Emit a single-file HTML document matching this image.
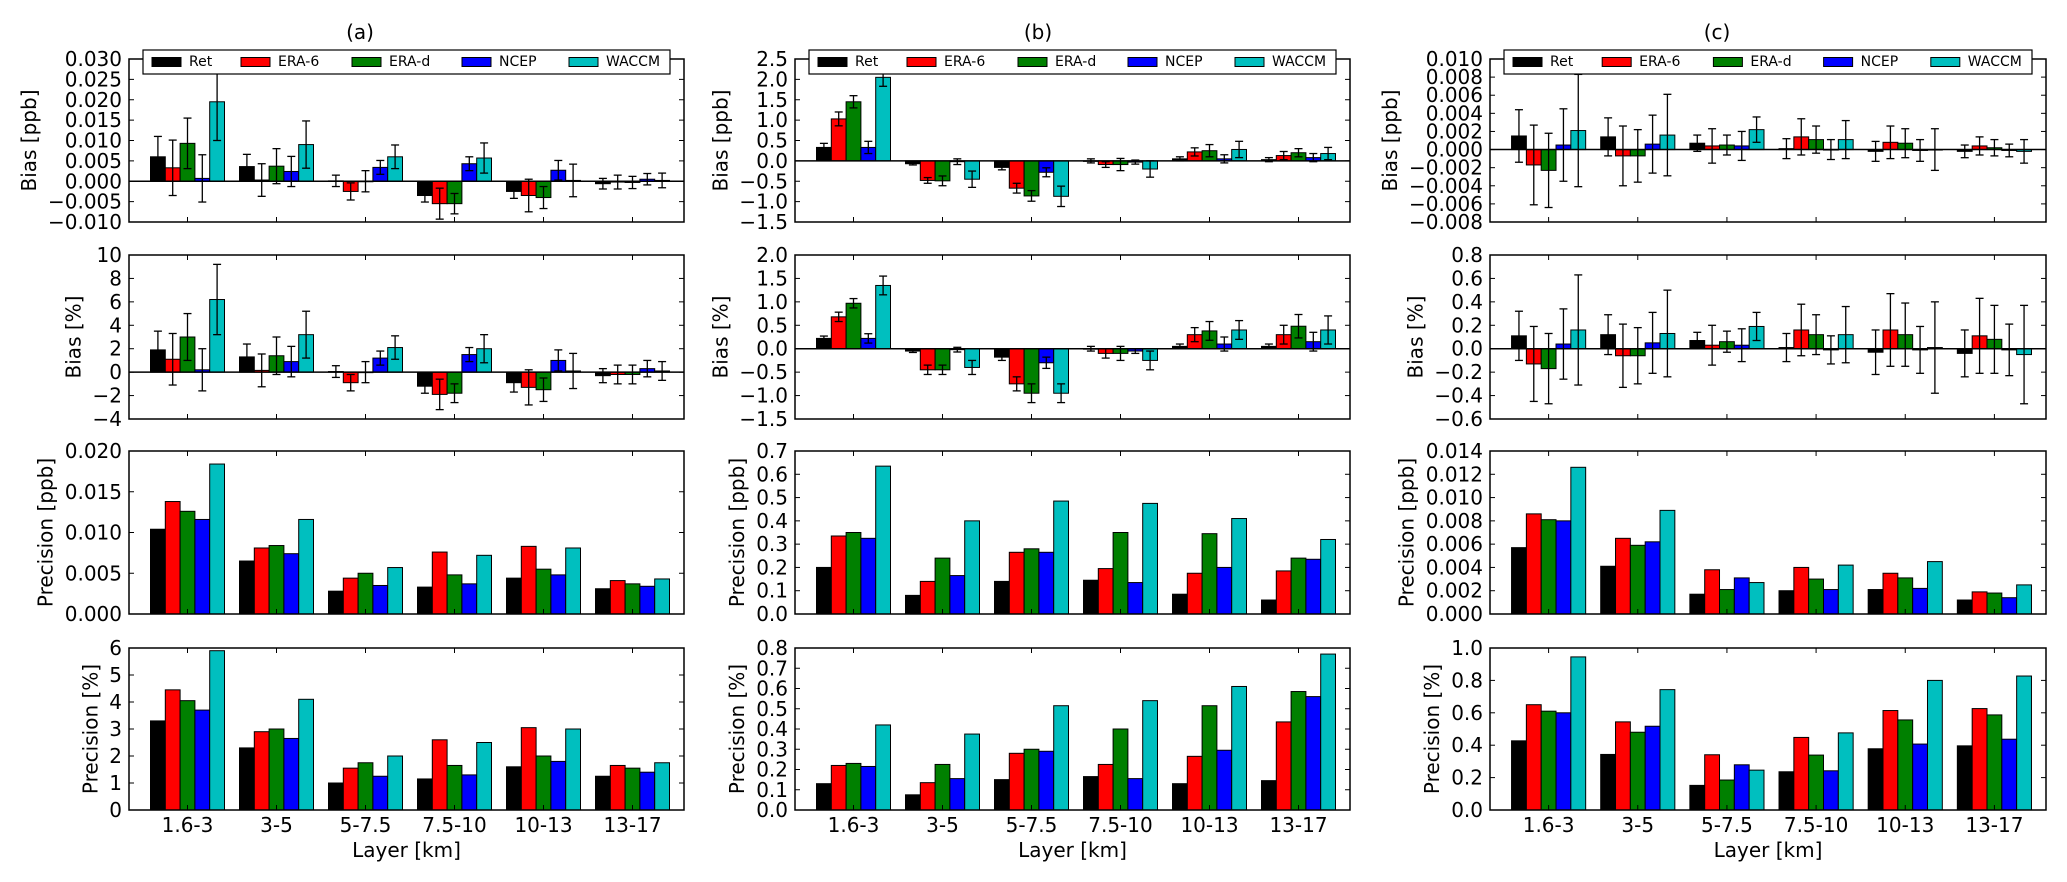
<!DOCTYPE html>
<html><head><meta charset="utf-8"><style>
html,body{margin:0;padding:0;background:#fff;}
svg{display:block;font-family:"DejaVu Sans","Liberation Sans",sans-serif;}
</style></head><body>
<svg id="fig" width="2067" height="882" viewBox="0 0 2067 882" xmlns="http://www.w3.org/2000/svg"></svg>
<script>
const categories = ["1.6-3","3-5","5-7.5","7.5-10","10-13","13-17"];
const seriesNames = ["Ret","ERA-6","ERA-d","NCEP","WACCM"];
const seriesColors = ["#000000","#ff0000","#008000","#0000ff","#00bfbf"];
const columnTitles = ["(a)","(b)","(c)"];
const rowLabels = ["Bias [ppb]","Bias [%]","Precision [ppb]","Precision [%]"];

// values: one row per category, five series each
const aBiasPpb = [[0.006,0.0033,0.0093,0.0007,0.0195],[0.0036,0.0003,0.0037,0.0024,0.009],[0.0001,-0.0025,0.0000,0.0034,0.006],[-0.0035,-0.0055,-0.0055,0.0043,0.0057],[-0.0025,-0.0035,-0.004,0.0027,0.0002],[-0.0006,-0.0002,-0.0003,0.0005,0.0002]];
const aBiasPpbErr = [[0.005,0.0068,0.0062,0.0058,0.0095],[0.003,0.004,0.0043,0.0037,0.0058],[0.0014,0.0021,0.0026,0.0017,0.0029],[0.0016,0.0038,0.0025,0.0017,0.0037],[0.0017,0.004,0.0027,0.0024,0.004],[0.0013,0.0017,0.0015,0.0014,0.0018]];
const aBiasPct = [[1.9,1.1,3.0,0.2,6.2],[1.3,0.15,1.4,0.9,3.2],[0.05,-0.9,0.0,1.2,2.1],[-1.2,-1.9,-1.8,1.5,2.0],[-0.9,-1.3,-1.5,1.0,0.1],[-0.3,-0.2,-0.2,0.3,0.1]];
const aBiasPctErr = [[1.6,2.2,2.0,1.8,3.0],[1.1,1.4,1.6,1.3,2.0],[0.5,0.7,0.9,0.6,1.0],[0.6,1.3,0.8,0.6,1.2],[0.8,1.5,1.0,0.9,1.5],[0.6,0.8,0.8,0.7,0.8]];
const aPrecPpb = [[0.0104,0.0138,0.0126,0.0116,0.0184],[0.0065,0.0081,0.0084,0.0074,0.0116],[0.0028,0.0044,0.0050,0.0035,0.0057],[0.0033,0.0076,0.0048,0.0037,0.0072],[0.0044,0.0083,0.0055,0.0048,0.0081],[0.0031,0.0041,0.0037,0.0034,0.0043]];
const aPrecPct = [[3.3,4.45,4.05,3.7,5.9],[2.3,2.9,3.0,2.65,4.1],[1.0,1.55,1.75,1.25,2.0],[1.15,2.6,1.65,1.3,2.5],[1.6,3.05,2.0,1.8,3.0],[1.25,1.65,1.55,1.4,1.75]];

const bBiasPpb = [[0.33,1.03,1.45,0.33,2.05],[-0.07,-0.48,-0.49,-0.02,-0.45],[-0.16,-0.67,-0.86,-0.28,-0.87],[0.0,-0.09,-0.09,-0.03,-0.2],[0.05,0.22,0.25,0.05,0.28],[0.03,0.13,0.2,0.08,0.18]];
const bBiasPpbErr = [[0.1,0.17,0.15,0.15,0.22],[0.03,0.07,0.12,0.07,0.2],[0.06,0.12,0.13,0.11,0.25],[0.05,0.07,0.15,0.05,0.2],[0.05,0.1,0.15,0.1,0.2],[0.05,0.1,0.1,0.1,0.15]];
const bBiasPct = [[0.22,0.68,0.97,0.22,1.35],[-0.05,-0.45,-0.45,-0.02,-0.4],[-0.18,-0.75,-0.95,-0.3,-0.95],[0.0,-0.1,-0.1,-0.05,-0.25],[0.05,0.3,0.38,0.1,0.4],[0.05,0.3,0.48,0.15,0.4]];
const bBiasPctErr = [[0.05,0.1,0.1,0.1,0.2],[0.03,0.1,0.1,0.05,0.15],[0.07,0.15,0.2,0.12,0.2],[0.05,0.1,0.15,0.05,0.2],[0.05,0.15,0.2,0.15,0.2],[0.05,0.2,0.25,0.2,0.3]];
const bPrecPpb = [[0.20,0.335,0.35,0.325,0.635],[0.08,0.14,0.24,0.165,0.40],[0.14,0.265,0.28,0.265,0.485],[0.145,0.195,0.35,0.135,0.475],[0.085,0.175,0.345,0.20,0.41],[0.06,0.185,0.24,0.235,0.32]];
const bPrecPct = [[0.13,0.22,0.23,0.215,0.42],[0.075,0.135,0.225,0.155,0.375],[0.15,0.28,0.30,0.29,0.515],[0.165,0.225,0.40,0.155,0.54],[0.13,0.265,0.515,0.295,0.61],[0.145,0.435,0.585,0.56,0.77]];

const cBiasPpb = [[0.0015,-0.0017,-0.0023,0.0005,0.0021],[0.0014,-0.0007,-0.0007,0.0006,0.0016],[0.0007,0.0004,0.0005,0.0004,0.0022],[0.0001,0.0014,0.0011,0.0000,0.0011],[-0.0002,0.0008,0.0007,-0.0001,0.0000],[-0.0002,0.0004,0.0002,-0.0001,-0.0002]];
const cBiasPpbErr = [[0.0029,0.0044,0.0041,0.004,0.0062],[0.0021,0.0033,0.0029,0.0032,0.0045],[0.0009,0.0019,0.0011,0.0016,0.0014],[0.0011,0.002,0.0015,0.0011,0.0021],[0.0011,0.0018,0.0016,0.0012,0.0023],[0.0007,0.001,0.0009,0.0007,0.0013]];
const cBiasPct = [[0.11,-0.13,-0.17,0.04,0.16],[0.12,-0.06,-0.06,0.05,0.13],[0.07,0.03,0.06,0.03,0.19],[0.01,0.16,0.12,-0.01,0.12],[-0.03,0.16,0.12,-0.01,0.01],[-0.04,0.11,0.08,-0.01,-0.05]];
const cBiasPctErr = [[0.21,0.32,0.30,0.30,0.47],[0.17,0.27,0.24,0.26,0.37],[0.07,0.17,0.09,0.14,0.12],[0.12,0.22,0.17,0.12,0.24],[0.19,0.31,0.27,0.2,0.39],[0.2,0.32,0.29,0.22,0.42]];
const cPrecPpb = [[0.0057,0.0086,0.0081,0.0080,0.0126],[0.0041,0.0065,0.0059,0.0062,0.0089],[0.0017,0.0038,0.0021,0.0031,0.0027],[0.0020,0.0040,0.0030,0.0021,0.0042],[0.0021,0.0035,0.0031,0.0022,0.0045],[0.0012,0.0019,0.0018,0.0014,0.0025]];
const cPrecPct = [[0.427,0.65,0.61,0.60,0.945],[0.343,0.544,0.48,0.517,0.743],[0.152,0.341,0.185,0.279,0.246],[0.236,0.448,0.339,0.242,0.476],[0.378,0.614,0.556,0.407,0.80],[0.396,0.626,0.587,0.437,0.827]];

// axis tick labels per panel
const aTicks = [["−0.010","−0.005","0.000","0.005","0.010","0.015","0.020","0.025","0.030"],["−4","−2","0","2","4","6","8","10"],["0.000","0.005","0.010","0.015","0.020"],["0","1","2","3","4","5","6"]];
const bTicks = [["−1.5","−1.0","−0.5","0.0","0.5","1.0","1.5","2.0","2.5"],["−1.5","−1.0","−0.5","0.0","0.5","1.0","1.5","2.0"],["0.0","0.1","0.2","0.3","0.4","0.5","0.6","0.7"],["0.0","0.1","0.2","0.3","0.4","0.5","0.6","0.7","0.8"]];
const cTicks = [["−0.008","−0.006","−0.004","−0.002","0.000","0.002","0.004","0.006","0.008","0.010"],["−0.6","−0.4","−0.2","0.0","0.2","0.4","0.6","0.8"],["0.000","0.002","0.004","0.006","0.008","0.010","0.012","0.014"],["0.0","0.2","0.4","0.6","0.8","1.0"]];

const NS = "http://www.w3.org/2000/svg";
const svg = document.getElementById("fig");
function mk(tag, attrs, parent){ const e=document.createElementNS(NS,tag); for(const k in attrs) e.setAttribute(k,attrs[k]); (parent||svg).appendChild(e); return e; }
function num(s){ return parseFloat(s.replace("−","-")); }

const colLeft = [129,795,1490], colW = [555,555,556];
const titleX = [360,1038,1717];
const rowTop = [59,255,451,648], rowBottom = [222,419,614,810];
const panels = [
  [[aBiasPpb,aBiasPpbErr],[aBiasPct,aBiasPctErr],[aPrecPpb,null],[aPrecPct,null]],
  [[bBiasPpb,bBiasPpbErr],[bBiasPct,bBiasPctErr],[bPrecPpb,null],[bPrecPct,null]],
  [[cBiasPpb,cBiasPpbErr],[cBiasPct,cBiasPctErr],[cPrecPpb,null],[cPrecPct,null]]
];
const tickSets = [aTicks,bTicks,cTicks];
const ids = ["a","b","c"];
const rowIds = ["bias-ppb","bias-pct","precision-ppb","precision-pct"];

for(let c=0;c<3;c++){
  const L=colLeft[c], W=colW[c], R=L+W;
  const t=mk("text",{x:titleX[c],y:32,"font-size":20,"text-anchor":"middle","dominant-baseline":"central"});
  t.textContent=columnTitles[c];
  
  
  const step=W*89/555, off=W*58.5/555, bw=W*14.8/555;
  const xc = i => L+off+i*step;
  for(let r=0;r<4;r++){
    const T=rowTop[r], B=rowBottom[r];
    const g=mk("g",{});
    
    
    const ticks=tickSets[c][r];
    const y0v=num(ticks[0]), y1v=num(ticks[ticks.length-1]);
    const ys = v => B-(v-y0v)/(y1v-y0v)*(B-T);
    const [vals,errs]=panels[c][r];
    // bars
    for(let i=0;i<categories.length;i++){
      for(let k=0;k<seriesNames.length;k++){
        const v=vals[i][k];
        const x=xc(i)-2.5*bw+k*bw;
        const ya=ys(Math.max(v,0)), yb=ys(Math.min(v,0));
        const rect=mk("rect",{x:x,y:ya,width:bw,height:Math.max(yb-ya,0.5),fill:seriesColors[k],stroke:"#000","stroke-width":1},g);
        
        
      }
    }
    if(errs){
      const zl=mk("line",{x1:L,x2:R,y1:ys(0),y2:ys(0),stroke:"#000","stroke-width":1.5},g);
      
      
      for(let i=0;i<categories.length;i++){
        for(let k=0;k<seriesNames.length;k++){
          const v=vals[i][k], e=errs[i][k];
          const x=xc(i)-2.5*bw+(k+0.5)*bw;
          const yt=Math.max(ys(v+e),T), yb2=Math.min(ys(v-e),B);
          const eg=mk("g",{stroke:"#000","stroke-width":1.3},g);
          
          
          mk("line",{x1:x,x2:x,y1:yt,y2:yb2},eg);
          if(ys(v+e)>=T) mk("line",{x1:x-4,x2:x+4,y1:yt,y2:yt},eg);
          if(ys(v-e)<=B) mk("line",{x1:x-4,x2:x+4,y1:yb2,y2:yb2},eg);
        }
      }
    }
    // spines
    const sp=mk("rect",{x:L,y:T,width:W,height:B-T,fill:"none",stroke:"#000","stroke-width":1.5},g);
    
    
    // y ticks
    let maxW=0;
    const tg=mk("g",{},g);
    
    
    ticks.forEach(s=>{
      const y=ys(num(s));
      mk("line",{x1:L,x2:L+5,y1:y,y2:y,stroke:"#000","stroke-width":1},tg);
      mk("line",{x1:R-5,x2:R,y1:y,y2:y,stroke:"#000","stroke-width":1},tg);
      const tx=mk("text",{x:L-7,y:y,"font-size":20,"text-anchor":"end","dominant-baseline":"central"},tg);
      tx.textContent=s;
      maxW=Math.max(maxW,tx.getComputedTextLength());
    });
    // x ticks
    for(let i=0;i<categories.length;i++){
      const x=xc(i);
      mk("line",{x1:x,x2:x,y1:B,y2:B-5,stroke:"#000","stroke-width":1},g);
      mk("line",{x1:x,x2:x,y1:T,y2:T+5,stroke:"#000","stroke-width":1},g);
      if(r===3){
        const xl=mk("text",{x:x,y:825,"font-size":20,"text-anchor":"middle","dominant-baseline":"central"},g);
        xl.textContent=categories[i];
        
        
      }
    }
    // y label
    const lx=L-7-maxW-19, ly=(T+B)/2;
    const yl=mk("text",{x:lx,y:ly,"font-size":20,"text-anchor":"middle","dominant-baseline":"central",transform:`rotate(-90 ${lx} ${ly})`},g);
    yl.textContent=rowLabels[r];
    
    
    // legend
    if(r===0){
      const lg=mk("g",{},g);
      
      
      const lL=L+14, lW=W-28;
      mk("rect",{x:lL,y:50,width:lW,height:24,fill:"#fff",stroke:"#000","stroke-width":1.2},lg);
      const offs=[9,98,209,319,426];
      for(let k=0;k<5;k++){
        const ex=lL+offs[k]*lW/527;
        const eg=mk("g",{},lg);
        
        
        mk("rect",{x:ex,y:57.5,width:29,height:9,fill:seriesColors[k],stroke:"#000","stroke-width":1},eg);
        const lt=mk("text",{x:ex+37,y:62,"font-size":14,"dominant-baseline":"central"},eg);
        lt.textContent=seriesNames[k];
      }
    }
  }
  const xt=mk("text",{x:L+W/2,y:850,"font-size":20,"text-anchor":"middle","dominant-baseline":"central"});
  xt.textContent="Layer [km]";
  
  
}
</script>
</body></html>
